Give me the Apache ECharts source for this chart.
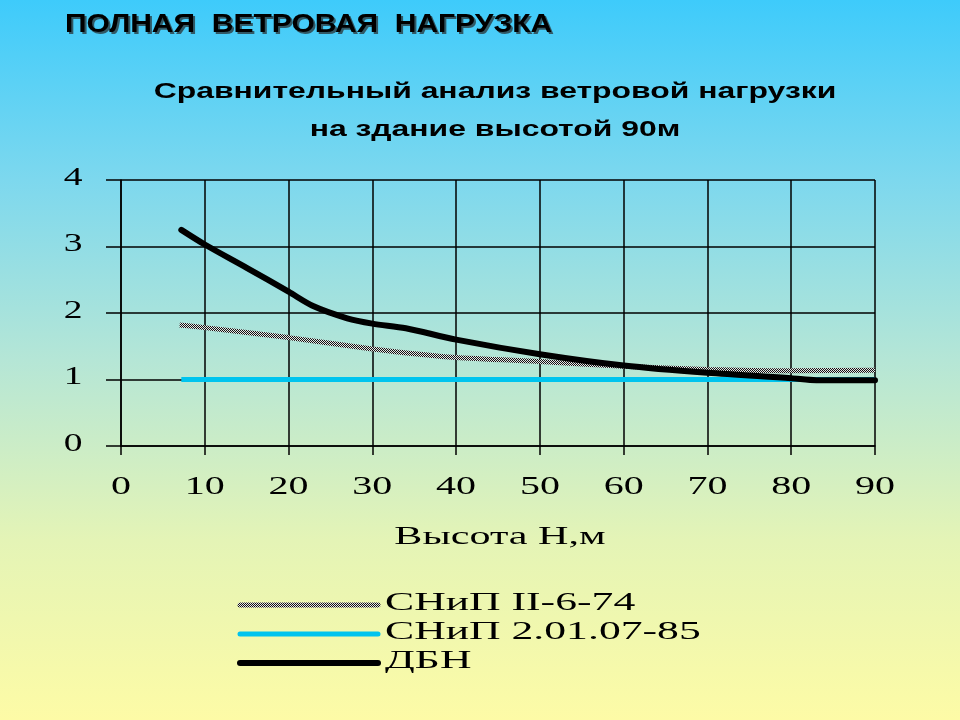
<!DOCTYPE html>
<html><head><meta charset="utf-8">
<script src="https://cdn.jsdelivr.net/npm/echarts@6/dist/echarts.min.js"></script>
<style>html,body{margin:0;padding:0;}#c{width:960px;height:720px;}</style>
</head><body><div id="c"></div>
<script>
const seriesNames = ['СНиП II-6-74', 'СНиП 2.01.07-85', 'ДБН'];
const snip74X = [7, 10, 20, 30, 40, 50, 60, 70, 80, 90];
const snip74Y = [1.82, 1.78, 1.63, 1.46, 1.33, 1.27, 1.20, 1.15, 1.13, 1.14];
const snip85X = [7.2, 90];
const snip85Y = [1, 1];
const dbnX = [7.2, 10, 15, 20, 23, 27, 30, 34, 40, 50, 60, 70, 80, 83, 90];
const dbnY = [3.25, 3.03, 2.68, 2.32, 2.10, 1.92, 1.84, 1.77, 1.60, 1.38, 1.21, 1.10, 1.02, 0.99, 0.99];
const xTicks = [0, 10, 20, 30, 40, 50, 60, 70, 80, 90];
const yTicks = [0, 1, 2, 3, 4];
const mainTitle = 'ПОЛНАЯ  ВЕТРОВАЯ  НАГРУЗКА';
const subTitle1 = 'Сравнительный анализ ветровой нагрузки';
const subTitle2 = 'на здание высотой 90м';
const xAxisName = 'Высота Н,м';

function pairs(xs, ys) { return xs.map((x, i) => [x, ys[i]]); }

const pc = document.createElement('canvas');
pc.width = 2; pc.height = 2;
const pctx = pc.getContext('2d');
pctx.fillStyle = '#e8e8e8'; pctx.fillRect(0, 0, 2, 2);
pctx.fillStyle = '#111111'; pctx.fillRect(0, 0, 1, 1); pctx.fillRect(1, 1, 1, 1);
const hatch = { image: pc, repeat: 'repeat' };
const lineColors = [hatch, '#00c4ee', '#000000'];
const lineWidths = [5, 5, 6];

const chart = echarts.init(document.getElementById('c'), null, { renderer: 'canvas' });
const serif = '"Liberation Serif", "Times New Roman", serif';
const sans = '"Liberation Sans", Arial, sans-serif';

chart.setOption({
  backgroundColor: {
    type: 'linear', x: 0, y: 0, x2: 0, y2: 1,
    colorStops: [
      { offset: 0, color: '#3ecbfb' },
      { offset: 0.25, color: '#7dd8ee' },
      { offset: 0.5, color: '#b5e6d6' },
      { offset: 0.75, color: '#e4f4b6' },
      { offset: 1, color: '#fdfba6' }
    ]
  },
  animation: false,
  grid: { left: 121, right: 85, top: 180, bottom: 274, containLabel: false },
  xAxis: {
    type: 'value', min: 0, max: 90, interval: 10,
    axisLine: { show: true, lineStyle: { color: '#000', width: 1.5 } },
    axisTick: { show: true, length: 9, lineStyle: { color: '#000', width: 1.5 } },
    axisLabel: { show: false },
    splitLine: { show: true, lineStyle: { color: '#000', width: 1.5 } }
  },
  yAxis: {
    type: 'value', min: 0, max: 4, interval: 1,
    axisLine: { show: true, lineStyle: { color: '#000', width: 1.5 } },
    axisTick: { show: true, length: 15, lineStyle: { color: '#000', width: 1.5 } },
    axisLabel: { show: false },
    splitLine: { show: true, lineStyle: { color: '#000', width: 1.5 } }
  },
  series: [
    { name: seriesNames[0], type: 'line', data: pairs(snip74X, snip74Y), symbol: 'none', smooth: 0.2,
      lineStyle: { color: hatch, width: lineWidths[0] }, z: 2 },
    { name: seriesNames[1], type: 'line', data: pairs(snip85X, snip85Y), symbol: 'none',
      lineStyle: { color: lineColors[1], width: lineWidths[1] }, z: 3 },
    { name: seriesNames[2], type: 'line', data: pairs(dbnX, dbnY), symbol: 'none', smooth: 0.3,
      lineStyle: { color: lineColors[2], width: lineWidths[2], cap: 'round' }, z: 4 }
  ]
});

function txt(text, x, y, font, sx, align, fill) {
  return {
    type: 'text', x: x, y: y, scaleX: sx, scaleY: 1, silent: true, z: 100,
    style: { text: text, x: 0, y: 0, font: font, fill: fill || '#000',
      textAlign: align, textVerticalAlign: 'middle', align: align, verticalAlign: 'middle' }
  };
}

const g = [];
g.push(txt(mainTitle, 67, 27, 'bold 25px ' + sans, 1.2, 'left', 'rgba(40,40,40,0.7)'));
g.push(txt(mainTitle, 65, 25, 'bold 25px ' + sans, 1.2, 'left', '#000'));
g.push(txt(subTitle1, 495, 92, 'bold 22px ' + sans, 1.45, 'center'));
g.push(txt(subTitle2, 495, 130, 'bold 22px ' + sans, 1.45, 'center'));
xTicks.forEach(v => {
  const p = chart.convertToPixel({ gridIndex: 0 }, [v, 0]);
  g.push(txt(String(v), p[0], 487, '25px ' + serif, 1.6, 'center'));
});
yTicks.forEach(v => {
  const p = chart.convertToPixel({ gridIndex: 0 }, [0, v]);
  g.push(txt(String(v), 73, p[1] - 2, '25px ' + serif, 1.5, 'center'));
});
g.push(txt(xAxisName, 500, 537, '26px ' + serif, 1.62, 'center'));
const legY = [605, 634, 663];
seriesNames.forEach((n, i) => {
  g.push({ type: 'line', silent: true, z: 100,
    shape: { x1: 240, y1: legY[i], x2: 378, y2: legY[i] },
    style: { stroke: lineColors[i], lineWidth: lineWidths[i], lineCap: 'round' } });
  g.push(txt(n, 385, legY[i] - 2, '26px ' + serif, 1.68, 'left'));
});
chart.setOption({ graphic: g });
</script></body></html>
